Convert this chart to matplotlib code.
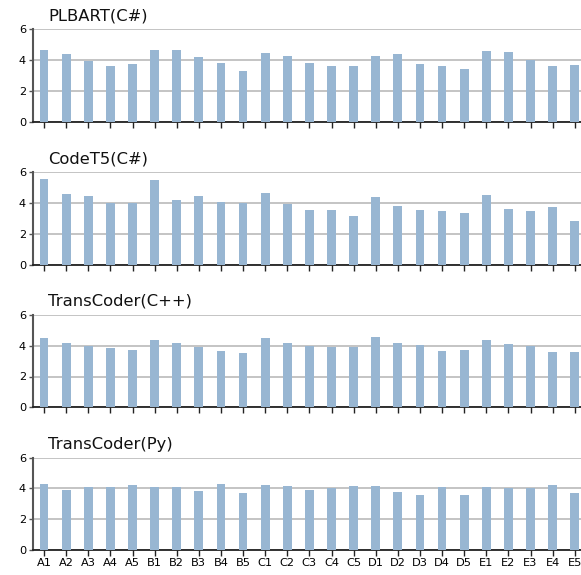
import matplotlib
matplotlib.use("Agg")
import matplotlib.pyplot as plt
import numpy as np

categories = ["A1", "A2", "A3", "A4", "A5", "B1", "B2", "B3", "B4", "B5",
              "C1", "C2", "C3", "C4", "C5", "D1", "D2", "D3", "D4", "D5",
              "E1", "E2", "E3", "E4", "E5"]

titles = ["PLBART(C#)", "CodeT5(C#)", "TransCoder(C++)", "TransCoder(Py)"]

plbart_cs = [4.65, 4.39, 3.96, 3.61, 3.74, 4.65, 4.65, 4.20, 3.81, 3.29,
             4.46, 4.26, 3.81, 3.61, 3.61, 4.26, 4.39, 3.74, 3.61, 3.42,
             4.59, 4.52, 3.98, 3.61, 3.68]
codet5_cs = [5.57, 4.60, 4.47, 4.00, 4.00, 5.51, 4.21, 4.47, 4.06, 4.00,
             4.67, 3.95, 3.56, 3.56, 3.17, 4.41, 3.82, 3.56, 3.50, 3.37,
             4.54, 3.63, 3.50, 3.76, 2.85]
transcoder_cpp = [4.50, 4.18, 4.00, 3.85, 3.72, 4.37, 4.18, 3.92, 3.66, 3.53,
                  4.50, 4.18, 4.00, 3.92, 3.92, 4.57, 4.18, 4.03, 3.66, 3.72,
                  4.37, 4.11, 4.00, 3.59, 3.59]
transcoder_py = [4.29, 3.90, 4.09, 4.09, 4.22, 4.09, 4.09, 3.83, 4.29, 3.70,
                 4.22, 4.16, 3.90, 4.03, 4.16, 4.16, 3.77, 3.57, 4.09, 3.57,
                 4.09, 4.03, 4.03, 4.22, 3.70]

series = [plbart_cs, codet5_cs, transcoder_cpp, transcoder_py]
yticks = [0, 2, 4, 6]

W, H = 581, 575
fig = plt.figure(figsize=(W / 100, H / 100), dpi=100)

left = 33 / W
width = 552.8 / W
height = 92.4 / H
bottoms_px = [121.7, 264.7, 407.3, 550.0]

bar_color = "#98b6d2"
x = np.arange(len(categories))

for i, (vals, title, bpx) in enumerate(zip(series, titles, bottoms_px)):
    ax = fig.add_axes([left, 1 - bpx / H, width, height])
    ax.bar(x, vals, width=0.4, color=bar_color, zorder=3)
    ax.set_xlim(-0.5, len(categories) - 0.5)
    ax.set_ylim(0, 6)
    ax.set_yticks(yticks)
    ax.set_xticks(x)
    if i == len(series) - 1:
        ax.set_xticklabels(categories, fontsize=8.2)
    else:
        ax.set_xticklabels([])
    ax.tick_params(axis="y", labelsize=8.2, length=3, width=1, color="#555555", pad=2)
    ax.tick_params(axis="x", length=4, width=1, color="#222222", pad=2)
    ax.grid(axis="y", color="#c4c4c4", linewidth=1.4, zorder=0)
    ax.set_axisbelow(True)
    for s in ["top", "right"]:
        ax.spines[s].set_visible(False)
    ax.spines["left"].set_color("#555555")
    ax.spines["left"].set_linewidth(1.5)
    ax.spines["bottom"].set_color("#222222")
    ax.spines["bottom"].set_linewidth(1.3)
    ax.text(15.3 / (W * width), 1.0 + 9 / (H * height), title,
            transform=ax.transAxes, fontsize=11.8, ha="left", va="baseline",
            color="#111111")

fig.savefig("out.png", dpi=100)
